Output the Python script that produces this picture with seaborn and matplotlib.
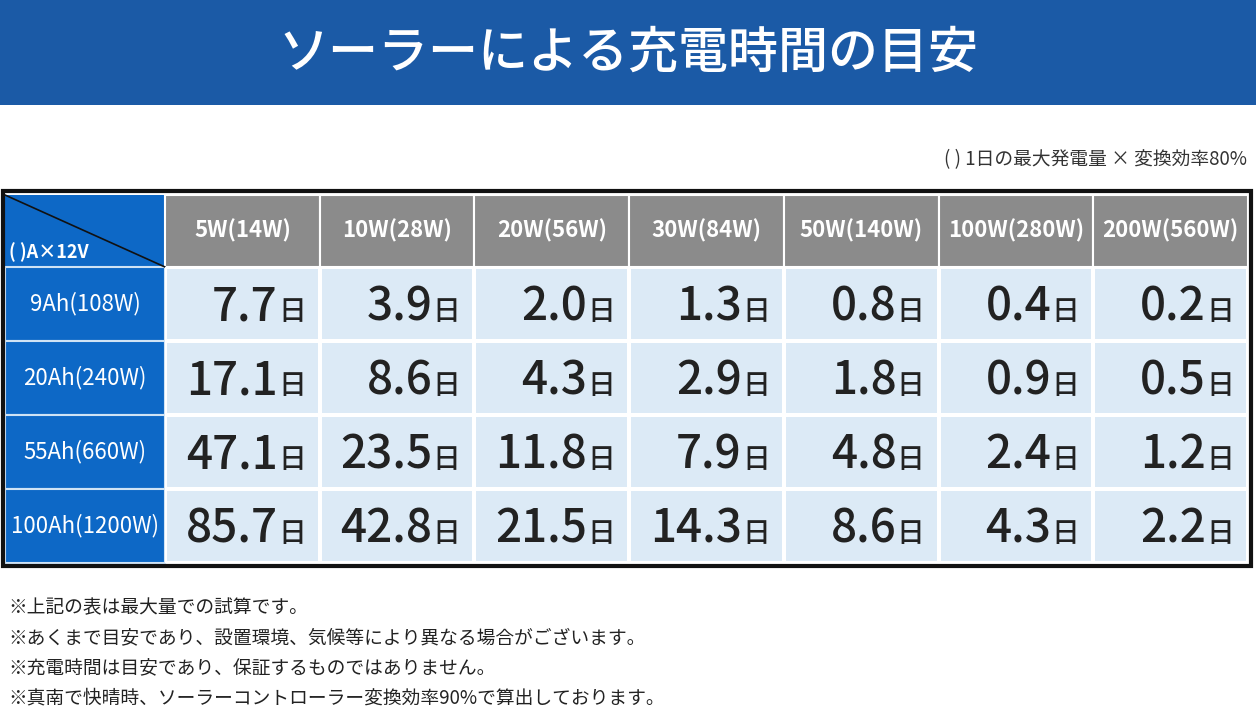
import numpy as np
import pandas as pd
import matplotlib
matplotlib.use("Agg")
import matplotlib.pyplot as plt
import matplotlib.patches as mpatches
from matplotlib.colors import ListedColormap
from matplotlib.transforms import offset_copy
import seaborn as sns

sns.set_theme(style="white")
plt.rcParams['font.family'] = ['Noto Sans CJK JP', 'DejaVu Sans']

# data
title = "ソーラーによる充電時間の目安"
panels = ["5W(14W)", "10W(28W)", "20W(56W)", "30W(84W)", "50W(140W)", "100W(280W)", "200W(560W)"]
batteries = ["9Ah(108W)", "20Ah(240W)", "55Ah(660W)", "100Ah(1200W)"]
days = [
    [7.7, 3.9, 2.0, 1.3, 0.8, 0.4, 0.2],
    [17.1, 8.6, 4.3, 2.9, 1.8, 0.9, 0.5],
    [47.1, 23.5, 11.8, 7.9, 4.8, 2.4, 1.2],
    [85.7, 42.8, 21.5, 14.3, 8.6, 4.3, 2.2],
]
corner_label = "( )A×12V"
top_note = "( ) 1日の最大発電量 × 変換効率80%"
notes = [
    "※上記の表は最大量での試算です。",
    "※あくまで目安であり、設置環境、気候等により異なる場合がございます。",
    "※充電時間は目安であり、保証するものではありません。",
    "※真南で快晴時、ソーラーコントローラー変換効率90%で算出しております。",
]

W, H = 1256, 722
BLUE_BANNER = "#1b5aa6"
BLUE_CELL = "#0d68c6"
GREY = "#8b8b8b"
LIGHT = "#dceaf6"

fig = plt.figure(figsize=(W / 100, H / 100), dpi=100)
bg = fig.add_axes([0, 0, 1, 1])
bg.set_xlim(0, W)
bg.set_ylim(H, 0)
bg.axis("off")

# banner
bg.add_patch(mpatches.Rectangle((0, 0), W, 105, color=BLUE_BANNER, lw=0))
bg.text(W / 2, 54, title, color="white", fontsize=36, fontweight="medium", ha="center", va="center")
bg.text(1247, 160, top_note, color="#333333", fontsize=13.5, ha="right", va="center")

# table geometry (pixels)
left, lab_w, right = 5, 160, 1248
top, head_h, bottom = 195, 72, 563
col_w = (right - left - lab_w) / len(panels)
row_h = (bottom - top - head_h) / len(batteries)

# header row
bg.add_patch(mpatches.Rectangle((left, top), lab_w, head_h, color=BLUE_CELL, lw=0))
bg.plot([left, left + lab_w], [top, top + head_h], color="#111111", lw=1.2)
bg.text(left + 4, top + head_h - 15, corner_label, color="white", fontsize=13, fontweight="bold", va="center")
for j, p in enumerate(panels):
    x0 = left + lab_w + j * col_w
    bg.add_patch(mpatches.Rectangle((x0, top), col_w, head_h, facecolor=GREY, edgecolor="white", lw=1.5))
    bg.text(x0 + col_w / 2, top + head_h / 2, p, color="white", fontsize=16, fontweight="bold",
            ha="center", va="center")

# row labels
for i, b in enumerate(batteries):
    y0 = top + head_h + i * row_h
    bg.add_patch(mpatches.Rectangle((left, y0), lab_w, row_h, facecolor=BLUE_CELL, edgecolor="#cfe3f5", lw=1.5))
    bg.text(left + lab_w / 2, y0 + row_h / 2, b, color="white", fontsize=16, ha="center", va="center")

# data cells via seaborn heatmap
df = pd.DataFrame(days, index=batteries, columns=panels)
hx = fig.add_axes([(left + lab_w) / W, 1 - bottom / H, (right - left - lab_w) / W, (bottom - top - head_h) / H])
sns.heatmap(df, ax=hx, cmap=ListedColormap([LIGHT]), cbar=False, linewidths=1.5, linecolor="white",
            xticklabels=False, yticklabels=False)
hx.set_xlabel("")
hx.set_ylabel("")
day_tr = offset_copy(hx.transData, fig=fig, x=-14, y=0, units="dots")
num_tr = offset_copy(hx.transData, fig=fig, x=-42, y=0, units="dots")
for i in range(len(batteries)):
    for j in range(len(panels)):
        xr = j + 1
        yc = i + 0.72
        hx.text(xr, yc, "日", transform=day_tr, fontsize=20, fontweight="medium", color="#222222",
                ha="right", va="baseline")
        hx.text(xr, yc, f"{days[i][j]:.1f}", transform=num_tr, fontsize=33, fontweight="medium",
                color="#222222", ha="right", va="baseline")

# outer border
bg.add_patch(mpatches.Rectangle((3, 191), 1248, 375, fill=False, edgecolor="#111111", lw=3, zorder=5))

# notes
for k, n in enumerate(notes):
    bg.text(8, 608 + k * 30, n, fontsize=13.5, color="#222222", va="center")

fig.savefig("out.png", dpi=100)
